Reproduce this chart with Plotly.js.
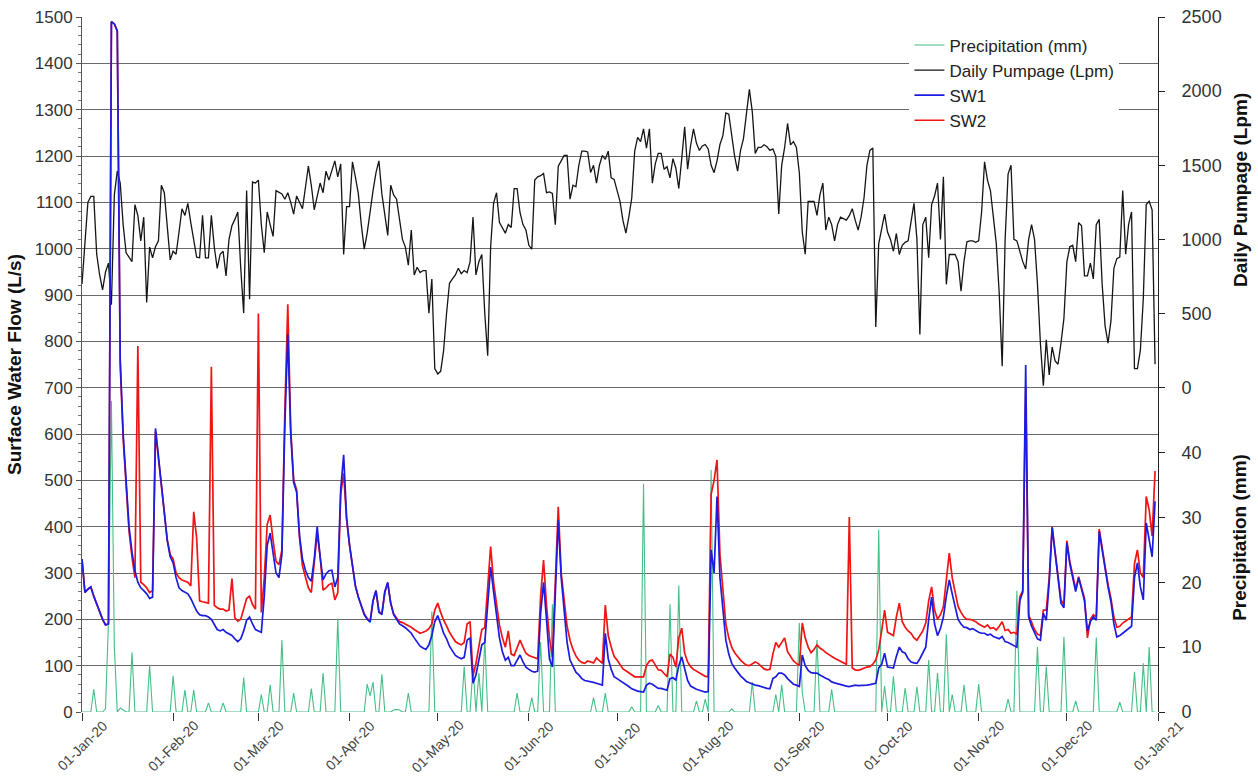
<!DOCTYPE html>
<html>
<head>
<meta charset="utf-8">
<script src="https://cdn.plot.ly/plotly-3.0.1.min.js"></script>
<style>html,body{margin:0;padding:0;background:#fff;}#chart{width:1258px;height:776px;}</style>
</head>
<body>
<div id="chart"></div>
<script>
// ---- Data (daily, 01-Jan-2020 .. 31-Dec-2020) ----
var monthTicks = ['2020-01-01','2020-02-01','2020-03-01','2020-04-01','2020-05-01','2020-06-01','2020-07-01','2020-08-01','2020-09-01','2020-10-01','2020-11-01','2020-12-01','2021-01-01'];
var monthLabels = ['01-Jan-20','01-Feb-20','01-Mar-20','01-Apr-20','01-May-20','01-Jun-20','01-Jul-20','01-Aug-20','01-Sep-20','01-Oct-20','01-Nov-20','01-Dec-20','01-Jan-21'];

// SW1 surface water flow (L/s)
var sw1 = [
 330,258,265,270,250,232,215,200,188,190, 1490,1485,1470,760,600,500,400,345,305,280, 268,262,255,245,248,612,550,480,420,370, 335,
 322,290,268,262,258,255,245,230,218,210, 208,208,205,200,190,178,175,178,172,168, 165,158,152,158,175,198,205,190,178,
 175,172,250,360,386,340,300,290,340,620, 815,600,495,475,380,330,306,290,282,330, 400,335,285,298,305,306,270,290,480,555, 420,
 360,310,272,248,228,210,200,194,240,262, 215,210,260,280,235,210,200,190,186,182, 176,170,160,150,142,138,135,145,165,195,
 208,190,170,158,142,132,122,118,115,118, 155,160,62,80,110,145,150,230,313,260, 210,160,130,112,118,100,100,112,123,108, 97,
 92,88,86,88,213,280,200,115,97,250, 414,290,220,150,112,98,86,80,72,68, 67,65,64,62,60,58,170,115,92,76,
 72,68,63,60,55,50,47,45,44,43, 58,62,60,55,51,51,49,47,72,74, 69,100,119,91,68,56,52,49,47,45, 43,
 44,350,300,465,290,220,155,125,105,95, 86,78,72,66,63,60,58,57,55,52, 51,50,72,76,84,84,80,72,66,60, 58,
 55,123,100,90,85,84,84,80,76,73, 70,65,63,61,59,58,56,55,56,58, 57,57,58,58,59,60,62,95,103,127,
 97,96,95,120,140,130,127,115,108,106, 105,115,127,140,200,248,190,165,180,205, 250,285,255,225,200,190,183,182,178,180, 175,
 172,170,170,166,168,163,160,158,163,152, 150,147,144,140,240,259,749,205,185,172, 158,155,213,198,280,398,340,285,235,225,
 365,320,290,260,290,265,240,175,195,205, 198,390,350,305,270,238,190,162,165,170, 175,180,185,290,322,270,242,408,371,335, 455
];

// SW2 surface water flow (L/s)
var sw2 = [
 330,258,265,270,250,232,215,200,188,190, 1490,1485,1470,750,590,490,390,335,290,790, 280,275,268,258,262,605,545,478,420,372, 340,
 330,300,290,285,283,280,272,432,375,240, 238,236,235,745,230,225,222,222,218,220, 288,203,196,200,220,245,250,232,222,
 860,215,290,405,425,370,325,318,350,650, 880,610,500,480,375,315,291,268,258,320, 386,335,263,268,275,278,242,257,470,515, 415,
 360,310,272,248,228,212,202,196,240,262, 217,212,258,278,235,212,203,195,193,190, 186,183,178,174,170,172,175,180,190,220,
 235,215,198,186,172,162,152,148,145,150, 190,195,78,105,140,178,182,260,357,280, 235,188,160,140,175,125,122,140,155,140, 127,
 122,120,118,115,250,328,230,160,119,300, 443,300,240,185,155,135,121,112,107,105, 110,108,106,117,110,105,231,165,140,120,
 112,102,93,89,85,80,76,76,76,76, 100,110,112,100,91,90,82,76,125,118, 97,160,181,127,108,98,92,88,84,80, 77,
 76,470,500,544,340,260,190,160,140,128, 119,112,106,101,100,104,108,105,98,93, 91,92,125,150,140,150,160,130,120,110, 105,
 100,192,160,140,128,135,145,138,134,128, 124,119,116,113,110,107,103,421,95,91, 90,92,95,97,98,103,112,134,175,220,
 172,168,165,205,235,195,183,175,170,160, 155,165,175,192,240,270,220,200,210,227, 290,343,290,255,228,215,205,200,200,198, 195,
 190,186,183,188,180,182,177,185,195,176, 178,170,172,168,248,262,700,210,192,178, 168,165,220,220,290,400,345,292,242,232,
 370,325,295,265,292,270,245,160,200,210, 205,395,355,310,275,245,205,183,185,192, 196,200,205,320,350,300,290,465,436,380, 520
];

// Daily pumpage (Lpm)
var pumpage = [
 700,1000,1250,1290,1290,900,760,660,780,840, 560,1300,1460,1380,1100,910,880,850,1235,1160, 990,1150,575,948,876,950,990,1365,1315,1100, 862,
 920,900,1050,1207,1162,1243,1113,1000,880,876, 1162,876,876,1162,948,805,900,920,754,1000, 1092,1135,1185,805,503,1329,596,1387,1380,
 1400,1100,910,1185,1100,1020,1329,1320,1307,1271, 1315,1250,1171,1293,1250,1207,1350,1494,1365,1200, 1290,1380,1315,1460,1400,1460,1530,1422,1509,898, 1221,
 1221,1523,1420,1307,1100,934,1042,1200,1329,1450, 1530,1307,1150,1027,1365,1300,1271,1150,1000,948, 826,1063,760,812,776,790,790,503,733,129,
 93,110,250,500,704,733,760,805,769,790, 775,848,1150,760,850,898,500,216,950,1243, 1315,1113,1080,1042,1100,1080,1343,1343,1180,1100, 1063,
 960,934,1400,1422,1430,1445,1315,1320,1310,1099, 1494,1530,1566,1566,1271,1365,1355,1500,1595,1595, 1590,1451,1500,1380,1500,1566,1540,1595,1415,1405,
 1330,1257,1128,1042,1150,1279,1595,1688,1660,1746, 1616,1746,1380,1509,1580,1580,1473,1490,1415,1545, 1480,1343,1545,1760,1473,1630,1746,1650,1600,1630, 1640,
 1610,1500,1450,1530,1640,1700,1853,1845,1700,1560, 1460,1600,1680,1832,2012,1860,1580,1620,1620,1638, 1625,1600,1610,1560,1171,1500,1620,1782,1638,1660, 1620,
 1450,1050,900,1257,1257,1257,1162,1300,1380,1063, 1150,1100,990,1100,1150,1140,1130,1160,1207,1130, 1063,1150,1279,1500,1600,1616,409,970,1080,1171,
 1050,1000,920,1040,898,960,980,990,1120,1243, 1000,359,1100,1150,876,1235,1293,1380,1000,1422, 697,898,898,898,850,650,850,984,990,990, 980,
 990,1185,1523,1400,1329,1150,970,632,144,1000, 1440,1500,1000,990,920,850,800,1000,1100,1000, 700,300,14,323,86,273,180,158,300,467,
 848,950,960,850,1113,1092,754,754,840,733, 1100,1135,700,417,300,450,805,870,880,1329, 900,1100,1185,129,129,251,600,1235,1257,1200, 158
];

// Precipitation (mm)
var precip = [
 0,0,0,0,3.5,0,0,0,0.5,14, 48,10,0,0.6,0.3,0,0,9.2,0,0, 0,0,0,7.2,0,0,0,0,0,0, 0,
 5.6,0,0,0,3.4,0,0,3.4,0,0, 0,0,1.4,0,0,0,0,1.4,0,0, 0,0,0,0,5.3,0,0,0,0,
 0,2.7,0,0,4.2,0,0,0,11.1,0, 0,0,2.9,0,0,0,0,0,3.6,0, 0,0,6,0,0,0,0,14.4,0,0, 0,
 0,0,0,0,0,0,4.3,2.5,4.6,0, 0,5.8,0,0,0,0.3,0.4,0.3,0,0, 2.9,0,0,0,0,0,0,0,15.5,0,
 0,0,0,0,0,0,0,0,0,7, 0,0,7,0,6,0,11.4,0,0,0, 0,0,0,0,0,0,0,2.9,0,0, 0,
 0,2.2,0,0,10.8,0,0,0,16.6,0, 0,0,0,0,0,0,0,0,0,0, 0,0,2.2,0,0,0,2.9,0,0,0,
 0,0,0,0,0,0.8,0,0,0,35.2, 0,0,0,0,1,0,0,0,16.6,0, 0,19.5,0,0,0,0,0,1.7,0,0, 2,
 0,37.3,0,0,0,0,0,0,0.5,0, 0,0,0,0,0,4.6,0,0,0,0, 0,0,0,2.7,0,4.2,0,0,0,0, 0,
 13.7,3,0,0,0,0,11.1,0,0,0, 0,3.5,0,0,0,0,0,0,0,0, 0,0,0,0,0,0,0,28.1,0,4,
 0,0,5.5,0,0,0,3.7,0,0,0, 3.9,0,0,0,8,0,0,6,0,0, 12,0,2.7,0,0,0,4.2,0,0,0, 0,
 4.3,0,0,0,0,0,0,0,0,0, 2,0,0,18.7,0,0,0,0,0,0, 10,0,0,7,0,0,0,0,0,11.6,
 0,0,0,1.7,0,0,0,0,0,0, 11.5,0,0,0,0,0,0,0,1.5,0, 0,0,0,6.2,0,0,7.5,0,10,0, 0
];

var pumpTicks = [0,500,1000,1500,2000,2500];
var precipTicks = [0,10,20,30,40];

// ---- dates for each daily value ----
function dayDates(n){
  var out = [];
  var t0 = Date.UTC(2020,0,1);
  for (var i=0;i<n;i++){
    var d = new Date(t0 + i*86400000);
    out.push(d.toISOString().slice(0,10));
  }
  return out;
}
var dates = dayDates(366);

// ---- axis geometry: left 0-1500; pumpage 0-2500 occupies left 700-1500; precip 0-50 occupies left 0-700 ----
var LEFT_MAX = 1500, SPLIT = 700;
var precipRange = [0, 50 * LEFT_MAX / SPLIT];
var pumpRange = [-2500 * SPLIT / (LEFT_MAX - SPLIT), 2500];

var FONT = 'Liberation Sans, Arial, Helvetica, sans-serif';

var traces = [
  {x: dates, y: precip, type: 'scatter', mode: 'lines', name: 'Precipitation (mm)', yaxis: 'y', line: {color: '#46bf86', width: 1.1}, legendrank: 1},
  {x: dates, y: pumpage, type: 'scatter', mode: 'lines', name: 'Daily Pumpage (Lpm)', yaxis: 'y2', line: {color: '#151515', width: 1.3}, legendrank: 2},
  {x: dates, y: sw2, type: 'scatter', mode: 'lines', name: 'SW2', yaxis: 'y3', line: {color: '#f01414', width: 1.7}, legendrank: 4},
  {x: dates, y: sw1, type: 'scatter', mode: 'lines', name: 'SW1', yaxis: 'y3', line: {color: '#1c1ce0', width: 1.7}, legendrank: 3}
];

// rotated month labels, centred under each tick (as in the reference)
var annotations = monthTicks.map(function(d, i){
  return {text: monthLabels[i], xref: 'x', yref: 'paper', x: d, y: -0.049, xanchor: 'center', yanchor: 'middle',
          textangle: -45, showarrow: false, font: {family: FONT, size: 14, color: '#444'}};
});
annotations.push(
  {text: 'Daily Pumpage (Lpm)', xref: 'paper', yref: 'paper', x: 1.0762, y: 0.751, xanchor: 'center', yanchor: 'middle',
   textangle: -90, showarrow: false, font: {family: FONT, size: 19, color: '#111', weight: 'bold'}},
  {text: 'Precipitation (mm)', xref: 'paper', yref: 'paper', x: 1.0762, y: 0.252, xanchor: 'center', yanchor: 'middle',
   textangle: -90, showarrow: false, font: {family: FONT, size: 19, color: '#111', weight: 'bold'}}
);

var layout = {
  width: 1258, height: 776,
  margin: {l: 82, r: 100, t: 17, b: 64, pad: 0},
  paper_bgcolor: '#ffffff', plot_bgcolor: '#ffffff',
  font: {family: FONT, color: '#333'},
  showlegend: true,
  legend: {x: 0.769, y: 0.985, xanchor: 'left', yanchor: 'top', bgcolor: '#ffffff', borderwidth: 0,
           font: {family: FONT, size: 17, color: '#222'}, traceorder: 'normal', tracegroupgap: 0},
  xaxis: {type: 'date', range: ['2020-01-01','2021-01-01'], tickmode: 'array', tickvals: monthTicks,
          showticklabels: false, ticks: 'outside', ticklen: 8, tickcolor: '#333', tickwidth: 1,
          showgrid: false, zeroline: false, showline: false, anchor: 'y'},
  yaxis: {range: precipRange, tickmode: 'array', tickvals: precipTicks, side: 'right', anchor: 'x',
          showgrid: false, zeroline: false, showline: true, linecolor: '#222', linewidth: 1,
          ticks: 'outside', ticklen: 6, tickcolor: '#222', ticklabelstandoff: 13,
          tickfont: {family: FONT, size: 18, color: '#333'}},
  yaxis2: {range: pumpRange, tickmode: 'array', tickvals: pumpTicks, side: 'right', overlaying: 'y', anchor: 'x',
           showgrid: false, zeroline: false, showline: false,
           ticks: 'outside', ticklen: 6, tickcolor: '#222', ticklabelstandoff: 13,
           tickfont: {family: FONT, size: 18, color: '#333'}},
  yaxis3: {range: [0, LEFT_MAX], tick0: 0, dtick: 100, side: 'left', overlaying: 'y', anchor: 'x',
           showgrid: true, gridcolor: '#6a6a6a', gridwidth: 1, zeroline: false,
           showline: true, linecolor: '#555', linewidth: 1,
           ticks: 'outside', ticklen: 5, tickcolor: '#555',
           minor: {ticks: 'outside', dtick: 20, ticklen: 3, tickcolor: '#777', showgrid: false},
           tickfont: {family: FONT, size: 17, color: '#333'},
           title: {text: 'Surface Water Flow (L/s)', font: {family: FONT, size: 19, color: '#111', weight: 'bold'}, standoff: 8}},
  annotations: annotations
};

Plotly.newPlot('chart', traces, layout, {staticPlot: true, displayModeBar: false});
</script>
</body>
</html>
